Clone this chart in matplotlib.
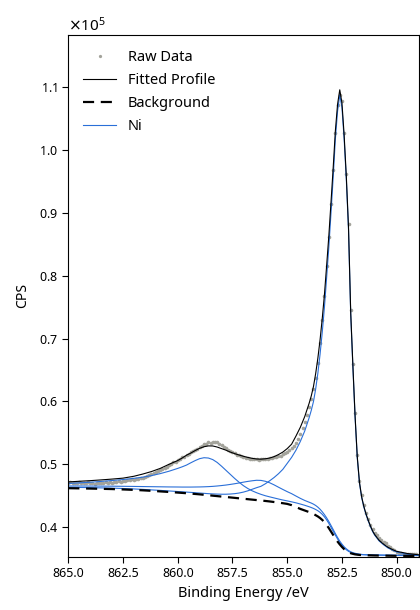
import numpy as np
import matplotlib
matplotlib.use("Agg")
import matplotlib.pyplot as plt
from matplotlib.ticker import ScalarFormatter, FormatStrFormatter, MultipleLocator

plt.rcParams['font.family'] = ['Noto Sans', 'DejaVu Sans']

# raw spectrum, 0.1 eV steps from 865.0 down to 849.0 (CPS / 1e5)
be_raw = np.round(np.linspace(865.0, 849.0, 161), 1)
raw_cps = [
    0.4705, 0.4712, 0.4698, 0.4710, 0.4703, 0.4715, 0.4702, 0.4708, 0.4697, 0.4711,
    0.4700, 0.4706, 0.4694, 0.4703, 0.4698, 0.4709, 0.4702, 0.4712, 0.4705, 0.4718,
    0.4710, 0.4722, 0.4716, 0.4730, 0.4725, 0.4738, 0.4733, 0.4748, 0.4745, 0.4760,
    0.4758, 0.4772, 0.4770, 0.4785, 0.4790, 0.4805, 0.4812, 0.4830, 0.4845, 0.4860,
    0.4875, 0.4890, 0.4912, 0.4925, 0.4948, 0.4962, 0.4990, 0.5005, 0.5030, 0.5042,
    0.5070, 0.5085, 0.5110, 0.5122, 0.5150, 0.5162, 0.5190, 0.5205, 0.5232, 0.5245,
    0.5275, 0.5290, 0.5318, 0.5325, 0.5350, 0.5345, 0.5362, 0.5350, 0.5348, 0.5325,
    0.5310, 0.5282, 0.5265, 0.5235, 0.5215, 0.5190, 0.5178, 0.5155, 0.5148, 0.5128,
    0.5122, 0.5105, 0.5102, 0.5088, 0.5090, 0.5078, 0.5082, 0.5075, 0.5083, 0.5078,
    0.5088, 0.5085, 0.5098, 0.5095, 0.5110, 0.5112, 0.5130, 0.5138, 0.5160, 0.5175,
    0.5200, 0.5225, 0.5260, 0.5298, 0.5345, 0.5410, 0.5480, 0.5580, 0.5680, 0.5790,
    0.5920, 0.6040, 0.6200, 0.6380, 0.6620, 0.6930, 0.7300, 0.7680, 0.8150, 0.8620,
    0.9150, 0.9690, 1.0280, 1.0720, 1.0880, 1.0780, 1.0280, 0.9620, 0.8820, 0.7450,
    0.6600, 0.5820, 0.5150, 0.4740, 0.4510, 0.4350, 0.4230, 0.4130, 0.4040, 0.3970,
    0.3910, 0.3870, 0.3830, 0.3800, 0.3760, 0.3740, 0.3700, 0.3680, 0.3650, 0.3630,
    0.3600, 0.3590, 0.3585, 0.3580, 0.3578, 0.3572, 0.3570, 0.3568, 0.3565, 0.3566,
    0.3562,
]

# fit curves on a coarser grid
be_fit = [
    865.0, 864.5, 864.0, 863.5, 863.0, 862.5, 862.0, 861.6, 861.2, 860.8,
    860.4, 860.0, 859.8, 859.6, 859.4, 859.2, 859.0, 858.8, 858.6, 858.4,
    858.2, 858.0, 857.8, 857.6, 857.4, 857.2, 857.0, 856.8, 856.6, 856.4,
    856.2, 856.0, 855.8, 855.6, 855.4, 855.2, 855.0, 854.8, 854.6, 854.4,
    854.2, 854.0, 853.9, 853.8, 853.7, 853.6, 853.5, 853.4, 853.3, 853.2,
    853.1, 853.0, 852.9, 852.8, 852.7, 852.6, 852.5, 852.4, 852.3, 852.2,
    852.1, 852.0, 851.9, 851.8, 851.7, 851.6, 851.5, 851.4, 851.3, 851.2,
    851.1, 851.0, 850.8, 850.6, 850.4, 850.2, 850.0, 849.5, 849.0,
]
envelope = [
    0.4720, 0.4730, 0.4740, 0.4752, 0.4765, 0.4780, 0.4810, 0.4845, 0.4885, 0.4935,
    0.5000, 0.5060, 0.5100, 0.5145, 0.5180, 0.5220, 0.5255, 0.5280, 0.5293, 0.5292,
    0.5275, 0.5250, 0.5225, 0.5195, 0.5170, 0.5148, 0.5128, 0.5110, 0.5095, 0.5085,
    0.5082, 0.5088, 0.5100, 0.5122, 0.5155, 0.5195, 0.5250, 0.5320, 0.5450, 0.5590,
    0.5760, 0.5970, 0.6090, 0.6240, 0.6445, 0.6690, 0.6980, 0.7320, 0.7700, 0.8160,
    0.8630, 0.9170, 0.9720, 1.0310, 1.0730, 1.0960, 1.0750, 1.0240, 0.9580, 0.8770,
    0.7420, 0.6570, 0.5770, 0.5120, 0.4715, 0.4483, 0.4330, 0.4210, 0.4110, 0.4020,
    0.3940, 0.3880, 0.3790, 0.3730, 0.3680, 0.3645, 0.3615, 0.3580, 0.3560,
]
background = [
    0.4620, 0.4617, 0.4614, 0.4610, 0.4606, 0.4600, 0.4593, 0.4586, 0.4578, 0.4569,
    0.4560, 0.4550, 0.4545, 0.4540, 0.4534, 0.4528, 0.4522, 0.4515, 0.4508, 0.4501,
    0.4494, 0.4487, 0.4480, 0.4473, 0.4466, 0.4459, 0.4452, 0.4445, 0.4438, 0.4431,
    0.4424, 0.4417, 0.4409, 0.4400, 0.4391, 0.4381, 0.4370, 0.4350, 0.4320, 0.4290,
    0.4265, 0.4240, 0.4225, 0.4210, 0.4190, 0.4170, 0.4145, 0.4115, 0.4080, 0.4035,
    0.3985, 0.3930, 0.3875, 0.3820, 0.3770, 0.3725, 0.3685, 0.3650, 0.3622, 0.3600,
    0.3585, 0.3575, 0.3567, 0.3562, 0.3558, 0.3556, 0.3554, 0.3553, 0.3552, 0.3551,
    0.3550, 0.3549, 0.3548, 0.3547, 0.3546, 0.3545, 0.3544, 0.3543, 0.3542,
]
ni_main = [
    0.4635, 0.4632, 0.4629, 0.4625, 0.4621, 0.4615, 0.4608, 0.4601, 0.4593, 0.4585,
    0.4576, 0.4567, 0.4563, 0.4558, 0.4553, 0.4548, 0.4543, 0.4538, 0.4533, 0.4529,
    0.4526, 0.4524, 0.4524, 0.4527, 0.4533, 0.4543, 0.4558, 0.4578, 0.4603, 0.4628,
    0.4650, 0.4690, 0.4738, 0.4790, 0.4850, 0.4920, 0.5015, 0.5110, 0.5225, 0.5365,
    0.5530, 0.5740, 0.5860, 0.6000, 0.6200, 0.6450, 0.6750, 0.7100, 0.7500, 0.7970,
    0.8450, 0.9000, 0.9570, 1.0180, 1.0620, 1.0880, 1.0680, 1.0180, 0.9530, 0.8730,
    0.7390, 0.6540, 0.5750, 0.5100, 0.4700, 0.4470, 0.4320, 0.4200, 0.4100, 0.4010,
    0.3930, 0.3870, 0.3780, 0.3720, 0.3670, 0.3635, 0.3605, 0.3570, 0.3550,
]
ni_sat1 = [
    0.4695, 0.4705, 0.4715, 0.4728, 0.4742, 0.4758, 0.4777, 0.4796, 0.4820, 0.4852,
    0.4890, 0.4935, 0.4960, 0.4988, 0.5025, 0.5060, 0.5090, 0.5105, 0.5100, 0.5075,
    0.5030, 0.4970, 0.4905, 0.4840, 0.4775, 0.4715, 0.4660, 0.4615, 0.4578, 0.4548,
    0.4522, 0.4500, 0.4482, 0.4465, 0.4448, 0.4432, 0.4418, 0.4403, 0.4387, 0.4368,
    0.4348, 0.4325, 0.4312, 0.4298, 0.4281, 0.4261, 0.4236, 0.4204, 0.4164, 0.4116,
    0.4060, 0.3998, 0.3935, 0.3872, 0.3812, 0.3757, 0.3712, 0.3672, 0.3640, 0.3615,
    0.3597, 0.3585, 0.3576, 0.3570, 0.3565, 0.3562, 0.3561, 0.3560, 0.3559, 0.3558,
    0.3557, 0.3556, 0.3555, 0.3554, 0.3553, 0.3552, 0.3551, 0.3550, 0.3549,
]
ni_sat2 = [
    0.4655, 0.4655, 0.4654, 0.4653, 0.4652, 0.4650, 0.4648, 0.4646, 0.4644, 0.4642,
    0.4640, 0.4639, 0.4638, 0.4638, 0.4638, 0.4639, 0.4640, 0.4642, 0.4645, 0.4649,
    0.4655, 0.4662, 0.4670, 0.4680, 0.4691, 0.4703, 0.4716, 0.4728, 0.4738, 0.4746,
    0.4744, 0.4730, 0.4706, 0.4673, 0.4636, 0.4600, 0.4565, 0.4533, 0.4495, 0.4458,
    0.4425, 0.4397, 0.4383, 0.4366, 0.4345, 0.4318, 0.4285, 0.4245, 0.4200, 0.4148,
    0.4090, 0.4027, 0.3962, 0.3897, 0.3835, 0.3778, 0.3730, 0.3688, 0.3655, 0.3628,
    0.3608, 0.3594, 0.3584, 0.3576, 0.3570, 0.3566, 0.3563, 0.3561, 0.3560, 0.3559,
    0.3558, 0.3557, 0.3556, 0.3555, 0.3554, 0.3553, 0.3552, 0.3551, 0.3550,
]

scale = 1e5
blue = '#2a6fd8'

fig = plt.figure(figsize=(4.2, 6.1), dpi=100)
ax = fig.add_axes([0.1626, 0.0874, 0.834, 0.855])

ax.plot(be_raw, np.array(raw_cps) * scale, 'o', ms=2.6, color='#a3a39b',
        mec='none', label='Raw Data', zorder=1)
ax.plot(be_fit, np.array(ni_main) * scale, color=blue, lw=0.8, label='Ni', zorder=2)
ax.plot(be_fit, np.array(ni_sat1) * scale, color=blue, lw=0.8, zorder=2)
ax.plot(be_fit, np.array(ni_sat2) * scale, color=blue, lw=0.8, zorder=2)
ax.plot(be_fit, np.array(background) * scale, color='black', lw=1.6,
        ls=(0, (5, 3)), label='Background', zorder=3)
ax.plot(be_fit, np.array(envelope) * scale, color='black', lw=0.8,
        label='Fitted Profile', zorder=4)

ax.set_xlim(865, 849)
ax.set_ylim(0.353 * scale, 1.183 * scale)
ax.xaxis.set_major_locator(MultipleLocator(2.5))
ax.xaxis.set_major_formatter(FormatStrFormatter('%.1f'))
ax.yaxis.set_major_locator(MultipleLocator(0.1 * scale))
fmt = ScalarFormatter(useMathText=True)
fmt.set_powerlimits((0, 0))
ax.yaxis.set_major_formatter(fmt)
ax.yaxis.get_offset_text().set_fontsize(11)

ax.tick_params(labelsize=9, direction='out', length=4, width=0.8)
ax.set_xlabel('Binding Energy /eV', fontsize=10.5)
ax.set_ylabel('CPS', fontsize=10, labelpad=6)

handles, labels = ax.get_legend_handles_labels()
order = [labels.index(n) for n in ['Raw Data', 'Fitted Profile', 'Background', 'Ni']]
ax.legend([handles[i] for i in order], [labels[i] for i in order],
          loc='upper left', frameon=False, fontsize=10.5, handlelength=2.3,
          labelspacing=0.55, markerscale=0.9, borderaxespad=0.6)

fig.savefig('out.png', dpi=100)
